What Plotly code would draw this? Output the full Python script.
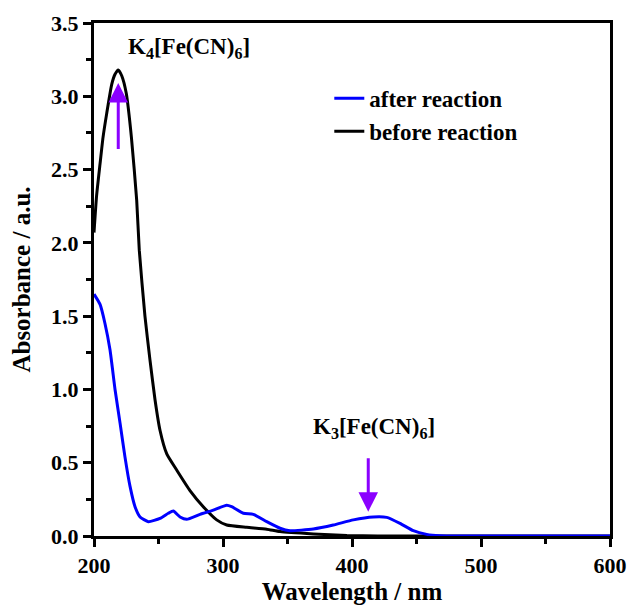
import plotly.graph_objects as go

# before reaction (black)
wl_before = [200, 202, 204.7, 207, 209.8, 213.7, 216.3, 218.8, 221.5, 225, 229, 233.1, 235.1, 239.5, 243.4, 247.3,
             251.2, 256.4, 264.1, 274.4, 284.7, 295.1, 302.9, 318.4, 333.9, 344.2, 370, 396, 420, 500, 600]
abs_before = [2.07, 2.32, 2.54, 2.72, 2.88, 3.08, 3.15, 3.18, 3.14, 3.02, 2.72, 2.29, 1.95, 1.50, 1.20, 0.93,
              0.72, 0.56, 0.45, 0.31, 0.20, 0.11, 0.075, 0.059, 0.046, 0.03, 0.014, 0.003, 0.0, 0.0, 0.0]

# after reaction (blue)
wl_after = [200, 204.7, 208.5, 212.4, 216.3, 220.2, 224, 227.9, 231.8, 235.7, 242.1, 251.2, 257.6,
            261.5, 266.7, 271.9, 282.2, 292.5, 302.9, 306.7, 315.8, 323.5, 333.9, 344.2, 351.9,
            370, 385.5, 401, 416.5, 426.9, 437.2, 447.5, 457.9, 468, 500, 550, 600]
abs_after = [1.65, 1.58, 1.45, 1.27, 1.00, 0.77, 0.54, 0.34, 0.20, 0.13, 0.098, 0.12, 0.155,
             0.17, 0.13, 0.114, 0.148, 0.177, 0.21, 0.20, 0.155, 0.148, 0.098, 0.053, 0.036,
             0.048, 0.075, 0.11, 0.13, 0.127, 0.086, 0.036, 0.011, 0.002, 0.0, 0.0, 0.0]

x_ticks = [200, 300, 400, 500, 600]
y_ticks = [0.0, 0.5, 1.0, 1.5, 2.0, 2.5, 3.0, 3.5]

FONT = "Liberation Serif, Times New Roman, serif"
PURPLE = "#8B00FF"

fig = go.Figure()
fig.add_trace(go.Scatter(x=wl_before, y=abs_before, mode="lines", name="<b>before reaction</b>",
                         line=dict(color="black", width=3, shape="spline", smoothing=0.5)))
fig.add_trace(go.Scatter(x=wl_after, y=abs_after, mode="lines", name="<b>after reaction</b>",
                         line=dict(color="#0000FF", width=3, shape="spline", smoothing=0.5)))

# labels
fig.add_annotation(x=225, y=3.33, xref="x", yref="y", text="<b>K<sub>4</sub>[Fe(CN)<sub>6</sub>]</b>",
                   showarrow=False, xanchor="left", yanchor="middle",
                   font=dict(family=FONT, size=23, color="black"))
fig.add_annotation(x=368, y=0.74, xref="x", yref="y", text="<b>K<sub>3</sub>[Fe(CN)<sub>6</sub>]</b>",
                   showarrow=False, xanchor="left", yanchor="middle",
                   font=dict(family=FONT, size=23, color="black"))
# arrows
fig.add_annotation(x=218.8, y=3.09, ax=218.8, ay=2.63, xref="x", yref="y", axref="x", ayref="y",
                   text="", showarrow=True, arrowhead=2, arrowsize=1.3, arrowwidth=3, arrowcolor=PURPLE)
fig.add_annotation(x=412.6, y=0.166, ax=412.6, ay=0.54, xref="x", yref="y", axref="x", ayref="y",
                   text="", showarrow=True, arrowhead=2, arrowsize=1.3, arrowwidth=3, arrowcolor=PURPLE)

axis_common = dict(showline=True, linecolor="black", linewidth=3, mirror=True,
                   ticks="outside", ticklen=8, tickwidth=3, tickcolor="black",
                   showgrid=False, zeroline=False, automargin=False,
                   tickfont=dict(family=FONT, size=22, color="black"))

fig.update_xaxes(range=[200, 600], tickvals=x_ticks, ticktext=[f"<b>{v}</b>" for v in x_ticks],
                 minor=dict(dtick=50, ticks="outside", ticklen=5, tickwidth=3, tickcolor="black"),
                 title=dict(text="<b>Wavelength / nm</b>", font=dict(family=FONT, size=25, color="black"),
                            standoff=4),
                 **axis_common)
fig.update_yaxes(range=[0, 3.5], tickvals=y_ticks, ticktext=[f"<b>{v:.1f}</b>" for v in y_ticks],
                 minor=dict(dtick=0.25, ticks="outside", ticklen=5, tickwidth=3, tickcolor="black"),
                 title=dict(text="<b>Absorbance / a.u.</b>", font=dict(family=FONT, size=25, color="black"),
                            standoff=14),
                 **axis_common)

fig.update_layout(
    width=630, height=607,
    margin=dict(l=94, r=20, t=23, b=71),
    paper_bgcolor="white", plot_bgcolor="white",
    showlegend=True,
    legend=dict(x=0.456, y=0.895, xanchor="left", yanchor="top", traceorder="reversed",
                bgcolor="rgba(0,0,0,0)", borderwidth=0,
                font=dict(family=FONT, size=23, color="black"), itemwidth=30, tracegroupgap=0),
)

fig.write_html("out.html")
